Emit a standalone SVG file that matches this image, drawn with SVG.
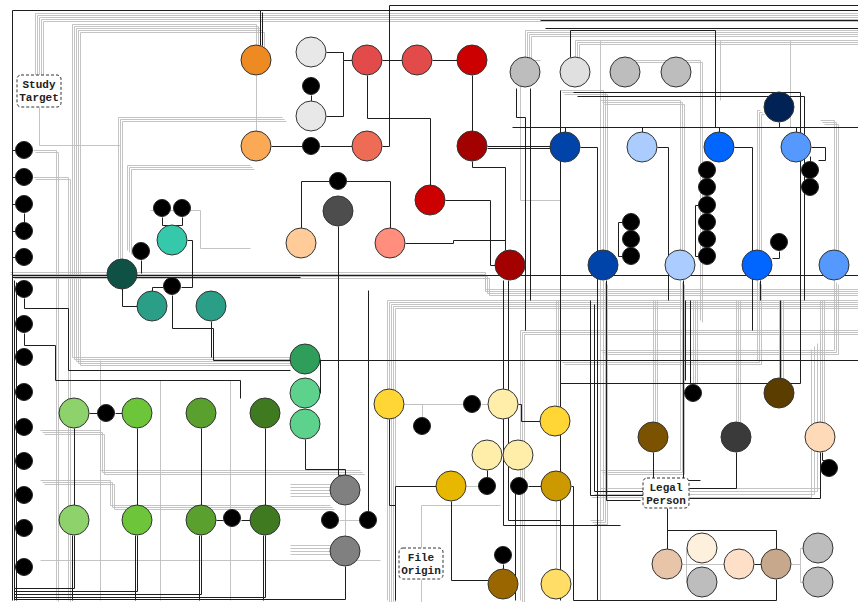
<svg xmlns="http://www.w3.org/2000/svg" xmlns:xlink="http://www.w3.org/1999/xlink" width="858" height="602" viewBox="0 0 858 602">
<style>
.n{stroke:#333;stroke-width:1}
.s{fill:#000;stroke:#222;stroke-width:1}
.d{fill:none;stroke:#1e1e1e;stroke-width:1}
.g{fill:none;stroke:#bdbdbd;stroke-width:0.9}
.box{fill:#fff;stroke:#333;stroke-width:1;stroke-dasharray:3,2}
.lbl{font-family:"Liberation Mono","DejaVu Sans Mono",monospace;font-weight:bold;font-size:11px;fill:#222;text-anchor:middle}
</style>
<defs>
<path id="b1" d="M35,75 V13 H858"/>
<path id="b2" d="M256,45 V24 H72 V357 H300"/>
<path id="b3" d="M282,117 H118 V258"/>
<path id="b4" d="M33,150 H56 V600"/>
<path id="b5" d="M33,177 H68 V600"/>
<path id="b6" d="M10,270 H485 V287 H858"/>
<path id="b7" d="M387,600 V300 H858"/>
<path id="b8" d="M520,600 V330 H858"/>
<path id="b9" d="M525,57 V30 H858"/>
<path id="b10" d="M575,57 V40 H858"/>
<path id="b11" d="M603,250 V90 H560"/>
<path id="b12" d="M680,250 V100 H600"/>
<path id="b13" d="M757,250 V110 H760"/>
<path id="b14" d="M834,250 V120 H820"/>
<path id="b15" d="M603,280 V520 H590"/>
<path id="b16" d="M680,280 V470 H600"/>
<path id="b17" d="M757,280 V360 H560"/>
<path id="b18" d="M834,280 V350 H600"/>
<path id="b19" d="M693,384 V300"/>
<path id="b20" d="M779,378 V300"/>
<path id="b22" d="M40,430 H100 V470 H360"/>
<path id="b23" d="M40,480 H110 V505 H330"/>
<path id="b24" d="M290,490 H330"/>
<path id="b25" d="M556,406 V300"/>
<path id="b26" d="M653,422 V300"/>
<path id="b27" d="M736,422 V300"/>
<path id="b28" d="M820,422 V300"/>
<path id="b29" d="M600,488 H820 V340"/>
<path id="b30" d="M250,165 H127 V250"/>
<path id="b31" d="M625,57 V60 H700 V320"/>
<path id="b32" d="M250,248 H200 V210 H150"/>
</defs>
<g id="connectors" transform="translate(0.5,0.5)">
<g class="g">
<use href="#b1"/><use href="#b1" x="2" y="2"/><use href="#b1" x="4" y="4"/><use href="#b1" x="6" y="6"/><use href="#b1" x="8" y="8"/>
<use href="#b2"/><use href="#b2" x="2" y="2"/><use href="#b2" x="4" y="4"/><use href="#b2" x="6" y="6"/><use href="#b2" x="8" y="8"/>
<use href="#b3"/><use href="#b3" x="2" y="2"/><use href="#b3" x="4" y="4"/>
<use href="#b4"/><use href="#b4" x="2" y="2"/><use href="#b5"/><use href="#b5" x="2" y="2"/>
<use href="#b6" y="2"/><use href="#b6" y="4"/><use href="#b6" x="2" y="6"/><use href="#b6" x="4" y="8"/>
<use href="#b7"/><use href="#b7" x="2" y="2"/><use href="#b7" x="4" y="4"/><use href="#b7" x="6" y="6"/><use href="#b7" x="8" y="8"/>
<use href="#b8"/><use href="#b8" x="2" y="2"/><use href="#b8" x="4" y="4"/>
<use href="#b9"/><use href="#b9" x="2" y="2"/><use href="#b9" x="4" y="4"/><use href="#b9" x="6" y="6"/>
<use href="#b10"/><use href="#b10" x="2" y="2"/><use href="#b10" x="4" y="4"/>
<use href="#b11"/><use href="#b11" x="2" y="2"/><use href="#b11" x="4" y="4"/>
<use href="#b12"/><use href="#b12" x="2" y="2"/><use href="#b12" x="4" y="4"/>
<use href="#b13"/><use href="#b13" x="2" y="2"/><use href="#b13" x="4" y="4"/>
<use href="#b14"/><use href="#b14" x="2" y="2"/><use href="#b14" x="4" y="4"/>
<use href="#b15"/><use href="#b15" x="2" y="2"/><use href="#b15" x="4" y="4"/>
<use href="#b16"/><use href="#b16" x="2" y="2"/><use href="#b16" x="4" y="4"/>
<use href="#b17"/><use href="#b17" x="2" y="2"/><use href="#b17" x="4" y="4"/>
<use href="#b18"/><use href="#b18" x="2" y="2"/><use href="#b18" x="4" y="4"/>
<use href="#b19"/><use href="#b19" x="2"/><use href="#b19" x="4"/>
<use href="#b20"/><use href="#b20" x="2"/><use href="#b20" x="4"/>
<use href="#b22"/><use href="#b22" x="2" y="2"/><use href="#b22" x="4" y="4"/>
<use href="#b23"/><use href="#b23" x="2" y="2"/><use href="#b23" x="4" y="4"/>
<use href="#b24" y="-6"/><use href="#b24" y="-3"/><use href="#b24"/><use href="#b24" y="3"/><use href="#b24" y="6"/>
<use href="#b24" y="55"/><use href="#b24" y="58"/><use href="#b24" y="61"/><use href="#b24" y="64"/>
<use href="#b25"/><use href="#b25" x="2"/><use href="#b25" x="4"/>
<use href="#b26"/><use href="#b26" x="2"/><use href="#b26" x="4"/>
<use href="#b27"/><use href="#b27" x="2"/><use href="#b27" x="4"/>
<use href="#b28"/><use href="#b28" x="2"/><use href="#b28" x="4"/>
<use href="#b29"/><use href="#b29" x="-3" y="3"/><use href="#b29" x="-6" y="6"/><use href="#b29" x="-9" y="9"/>
<use href="#b30"/><use href="#b30" x="2" y="2"/><use href="#b30" x="4" y="4"/>
<use href="#b31"/><use href="#b31" x="2" y="2"/>
<use href="#b32"/>
<path d="M256,75 V131"/>
<path d="M345,505 V536 M339,520 H359"/>
<path d="M404,404 H463 M410,404 H422 V417 M481,404 H488 M466,486 H478 M556,501 V569"/>
<path d="M682,564 H724 M686,564 V548 H687 M686,564 V582 H687 M791,564 H800 V548 H803 M800,564 V582 H803"/>
<path d="M421,579 V602 M421,548 V505 H500"/>
<path d="M39,107 V145 H120"/>
<path d="M100,360 V600 M160,380 V600 M230,380 V600 M40,560 H380"/>
<path d="M540,60 H520 V200 H560 M600,40 V600 M720,40 V100 M790,40 V127"/>
</g>
<g class="d">
<path d="M12,600 V10 H858"/>
<path d="M382,146 H389 V5 H858"/>
<path d="M260,45 V10 M262,45 V12"/>
<path d="M326,52 H343 V60 H352 M326,116 H343 V60 M311,95 V101"/>
<path d="M382,60 H402 M432,60 H457 M472,75 V131"/>
<path d="M320,146 H352 M271,146 H302"/>
<path d="M367,75 V118 H430 V185"/>
<path d="M487,146 H550 M487,148 H550"/>
<path d="M472,161 V167 H505 V250"/>
<path d="M445,200 H490 V265 H495"/>
<path d="M405,243 H453 V240 H505"/>
<path d="M301,228 V181 H390 V228"/>
<path d="M338,226 V475 H345"/>
<path d="M162,217 V225 H172 M182,217 V225 H172"/>
<path d="M141,260 V273 M122,288 V306 H137 M163,287 H152 V291 M181,287 H192 V240 H187"/>
<path d="M172,295 V328 H213 V360 H858"/>
<path d="M211,321 V357"/>
<path d="M12,275 H858 M12,277 H300"/>
<path d="M24,298 V308 H68 V370 H290"/>
<path d="M24,333 V345 H55 V380 H240 V398"/>
<path d="M89,413 H97 M115,413 H122 M216,520 H223 M241,520 H250"/>
<path d="M74,428 V505 M137,428 V505 M201,428 V505 M265,428 V505"/>
<path d="M74,535 V588 H14 M137,535 V591 H14 M201,535 V594 H14 M265,535 V597 H14 M345,566 V599 H14"/>
<path d="M72,535 V600 M135,535 V600 M199,535 V600 M263,535 V600"/>
<path d="M305,439 V469 H345 V475 M320,359 V393"/>
<path d="M368,511 V290"/>
<path d="M389,419 V505 H395 M436,486 H395 V600"/>
<path d="M518,404 H521 V421 H540 M487,470 V477 M528,486 H541"/>
<path d="M451,501 V580 H488 M503,564 V569"/>
<path d="M653,452 V478 M667,508 V549 M667,530 H776 V549 M754,564 H761"/>
<path d="M776,579 V600 H573 V486 H571"/>
<path d="M736,452 V488 H689 M820,452 V498 H689 M822,452 V460 H829"/>
<path d="M779,122 V127 M512,127 H858 M565,132 V127 M642,132 V127 M719,132 V127 M796,132 V127"/>
<path d="M580,147 H597 V600 M657,147 H668 V300 M734,147 H752 V330 M811,147 H825 V160 H818"/>
<path d="M698,205 H695 V256 H698 M622,222 H618 V256 H622"/>
<path d="M779,251 V258 H772 M810,161 V156"/>
<path d="M24,213 V222 M12,150 H15 M12,177 H15 M12,204 H15 M12,231 H15 M12,257 H15"/>
<path d="M14,289 H15 M14,324 H15 M14,357 H15 M14,392 H15 M14,427 H15 M14,461 H15 M14,495 H15 M14,528 H15 M14,567 H15"/>
<path d="M14,280 V600 M16,282 V600"/>
<path d="M515,600 V480 M508,280 V520 H560 M503,280 V525 H620"/>
<path d="M685,300 V380 M690,300 V384 M780,300 V378"/>
<path d="M540,20 H858 M545,28 H858 M560,90 V600"/>
<path d="M570,57 V30 H715 V127 M573,92 H800 V383 H560 M577,96 H804 V300"/>
<path d="M590,300 V495 H643 M594,304 V491 H643"/>
<path d="M606,280 V500 H640 M683,280 V480 H700 M760,280 V300"/>
<path d="M516,88 V117 H525 V330 M530,88 V300"/>
</g>
</g>
<g id="node-orange"><circle class="n" cx="256" cy="60" r="15" fill="#EE8A22"/></g>
<g id="node-lightorange"><circle class="n" cx="256" cy="146" r="15" fill="#FBA955"/></g>
<g id="node-lg1"><circle class="n" cx="311" cy="52" r="15" fill="#E8E8E8"/></g>
<g id="node-s1"><circle class="s" cx="311" cy="86" r="8.5"/></g>
<g id="node-lg2"><circle class="n" cx="311" cy="116" r="15" fill="#E8E8E8"/></g>
<g id="node-s2"><circle class="s" cx="311" cy="146" r="8.5"/></g>
<g id="node-red1"><circle class="n" cx="367" cy="60" r="15" fill="#E24B4A"/></g>
<g id="node-red2"><circle class="n" cx="417" cy="60" r="15" fill="#E24B4A"/></g>
<g id="node-red3"><circle class="n" cx="472" cy="60" r="15" fill="#CC0000"/></g>
<g id="node-salmon1"><circle class="n" cx="367" cy="146" r="15" fill="#EE6B55"/></g>
<g id="node-darkred1"><circle class="n" cx="472" cy="146" r="15" fill="#A30000"/></g>
<g id="node-red4"><circle class="n" cx="430" cy="200" r="15" fill="#CC0000"/></g>
<g id="node-s3"><circle class="s" cx="338" cy="181" r="8.5"/></g>
<g id="node-darkgrey"><circle class="n" cx="338" cy="211" r="15" fill="#4D4D4D"/></g>
<g id="node-peach"><circle class="n" cx="301" cy="243" r="15" fill="#FFCC99"/></g>
<g id="node-salmon2"><circle class="n" cx="390" cy="243" r="15" fill="#FF8E7C"/></g>
<g id="node-darkred2"><circle class="n" cx="510" cy="265" r="15" fill="#A30000"/></g>
<g id="node-grey1"><circle class="n" cx="525" cy="72" r="15" fill="#BDBDBD"/></g>
<g id="node-grey2"><circle class="n" cx="575" cy="72" r="15" fill="#E0E0E0"/></g>
<g id="node-grey3"><circle class="n" cx="625" cy="72" r="15" fill="#BDBDBD"/></g>
<g id="node-grey4"><circle class="n" cx="676" cy="72" r="15" fill="#BDBDBD"/></g>
<g id="node-navy"><circle class="n" cx="779" cy="107" r="15" fill="#002255"/></g>
<g id="node-blue1"><circle class="n" cx="565" cy="147" r="15" fill="#0044AA"/></g>
<g id="node-blue2"><circle class="n" cx="642" cy="147" r="15" fill="#AACCFF"/></g>
<g id="node-blue3"><circle class="n" cx="719" cy="147" r="15" fill="#0066FF"/></g>
<g id="node-blue4"><circle class="n" cx="796" cy="147" r="15" fill="#5599FF"/></g>
<g id="node-blue5"><circle class="n" cx="603" cy="265" r="15" fill="#0044AA"/></g>
<g id="node-blue6"><circle class="n" cx="680" cy="265" r="15" fill="#AACCFF"/></g>
<g id="node-blue7"><circle class="n" cx="757" cy="265" r="15" fill="#0066FF"/></g>
<g id="node-blue8"><circle class="n" cx="834" cy="265" r="15" fill="#5599FF"/></g>
<g id="node-s-blue4a"><circle class="s" cx="810" cy="170" r="8.5"/></g>
<g id="node-s-blue4b"><circle class="s" cx="810" cy="187" r="8.5"/></g>
<g id="node-s-b5a"><circle class="s" cx="631" cy="222" r="8.5"/></g>
<g id="node-s-b5b"><circle class="s" cx="631" cy="239" r="8.5"/></g>
<g id="node-s-b5c"><circle class="s" cx="631" cy="256" r="8.5"/></g>
<g id="node-s-c1"><circle class="s" cx="707" cy="170" r="8.5"/></g>
<g id="node-s-c2"><circle class="s" cx="707" cy="187" r="8.5"/></g>
<g id="node-s-c3"><circle class="s" cx="707" cy="205" r="8.5"/></g>
<g id="node-s-c4"><circle class="s" cx="707" cy="222" r="8.5"/></g>
<g id="node-s-c5"><circle class="s" cx="707" cy="239" r="8.5"/></g>
<g id="node-s-c6"><circle class="s" cx="707" cy="256" r="8.5"/></g>
<g id="node-s-b7"><circle class="s" cx="779" cy="242" r="8.5"/></g>
<g id="node-left-col">
<circle class="s" cx="24" cy="150" r="8.5"/><circle class="s" cx="24" cy="177" r="8.5"/><circle class="s" cx="24" cy="204" r="8.5"/><circle class="s" cx="24" cy="231" r="8.5"/><circle class="s" cx="24" cy="257" r="8.5"/>
<circle class="s" cx="24" cy="289" r="8.5"/><circle class="s" cx="24" cy="324" r="8.5"/><circle class="s" cx="24" cy="357" r="8.5"/><circle class="s" cx="24" cy="392" r="8.5"/><circle class="s" cx="24" cy="427" r="8.5"/><circle class="s" cx="24" cy="461" r="8.5"/><circle class="s" cx="24" cy="495" r="8.5"/><circle class="s" cx="24" cy="528" r="8.5"/><circle class="s" cx="24" cy="567" r="8.5"/>
</g>
<g id="node-darkteal"><circle class="n" cx="122" cy="274" r="15" fill="#0F5245"/></g>
<g id="node-tealLight"><circle class="n" cx="172" cy="240" r="15" fill="#36C8AA"/></g>
<g id="node-s-t1"><circle class="s" cx="162" cy="208" r="8.5"/></g>
<g id="node-s-t2"><circle class="s" cx="182" cy="208" r="8.5"/></g>
<g id="node-s-t3"><circle class="s" cx="141" cy="251" r="8.5"/></g>
<g id="node-s-t4"><circle class="s" cx="172" cy="286" r="8.5"/></g>
<g id="node-teal1"><circle class="n" cx="152" cy="306" r="15" fill="#2A9E86"/></g>
<g id="node-teal2"><circle class="n" cx="211" cy="306" r="15" fill="#2A9E86"/></g>
<g id="node-g1"><circle class="n" cx="74" cy="413" r="15" fill="#8DD26B"/></g>
<g id="node-s-g1"><circle class="s" cx="106" cy="413" r="8.5"/></g>
<g id="node-g2"><circle class="n" cx="137" cy="413" r="15" fill="#6DC53A"/></g>
<g id="node-g3"><circle class="n" cx="201" cy="413" r="15" fill="#5AA02E"/></g>
<g id="node-g4"><circle class="n" cx="265" cy="413" r="15" fill="#3F7A20"/></g>
<g id="node-g5"><circle class="n" cx="74" cy="520" r="15" fill="#8DD26B"/></g>
<g id="node-g6"><circle class="n" cx="137" cy="520" r="15" fill="#6DC53A"/></g>
<g id="node-g7"><circle class="n" cx="201" cy="520" r="15" fill="#5AA02E"/></g>
<g id="node-s-g2"><circle class="s" cx="232" cy="518" r="8.5"/></g>
<g id="node-g8"><circle class="n" cx="265" cy="520" r="15" fill="#3F7A20"/></g>
<g id="node-mg1"><circle class="n" cx="305" cy="359" r="15" fill="#2E9E5A"/></g>
<g id="node-mg2"><circle class="n" cx="305" cy="393" r="15" fill="#5CD28C"/></g>
<g id="node-mg3"><circle class="n" cx="305" cy="424" r="15" fill="#5CD28C"/></g>
<g id="node-gm1"><circle class="n" cx="345" cy="490" r="15" fill="#808080"/></g>
<g id="node-gm2"><circle class="n" cx="345" cy="551" r="15" fill="#808080"/></g>
<g id="node-s-gm1"><circle class="s" cx="330" cy="520" r="8.5"/></g>
<g id="node-s-gm2"><circle class="s" cx="368" cy="520" r="8.5"/></g>
<g id="node-y1"><circle class="n" cx="389" cy="404" r="15" fill="#FFD633"/></g>
<g id="node-s-y1"><circle class="s" cx="422" cy="426" r="8.5"/></g>
<g id="node-s-y2"><circle class="s" cx="472" cy="404" r="8.5"/></g>
<g id="node-ly1"><circle class="n" cx="503" cy="404" r="15" fill="#FFEEAA"/></g>
<g id="node-y2"><circle class="n" cx="555" cy="421" r="15" fill="#FFD633"/></g>
<g id="node-ly2"><circle class="n" cx="487" cy="455" r="15" fill="#FFEEAA"/></g>
<g id="node-ly3"><circle class="n" cx="518" cy="455" r="15" fill="#FFEEAA"/></g>
<g id="node-s-y3"><circle class="s" cx="487" cy="486" r="8.5"/></g>
<g id="node-s-y4"><circle class="s" cx="519" cy="486" r="8.5"/></g>
<g id="node-y3"><circle class="n" cx="451" cy="486" r="15" fill="#E8B800"/></g>
<g id="node-y4"><circle class="n" cx="556" cy="486" r="15" fill="#CC9900"/></g>
<g id="node-s-y5"><circle class="s" cx="503" cy="555" r="8.5"/></g>
<g id="node-y5"><circle class="n" cx="503" cy="584" r="15" fill="#996600"/></g>
<g id="node-y6"><circle class="n" cx="556" cy="584" r="15" fill="#FFDD66"/></g>
<g id="node-s-r1"><circle class="s" cx="693" cy="393" r="8.5"/></g>
<g id="node-br1"><circle class="n" cx="779" cy="393" r="15" fill="#5C3D00"/></g>
<g id="node-br2"><circle class="n" cx="653" cy="437" r="15" fill="#7A5200"/></g>
<g id="node-dk"><circle class="n" cx="736" cy="437" r="15" fill="#3A3A3A"/></g>
<g id="node-pc"><circle class="n" cx="820" cy="437" r="15" fill="#FFDAB9"/></g>
<g id="node-s-r2"><circle class="s" cx="829" cy="468" r="8.5"/></g>
<g id="node-b1"><circle class="n" cx="667" cy="564" r="15" fill="#E8C4A8"/></g>
<g id="node-b2"><circle class="n" cx="702" cy="548" r="15" fill="#FDF0DC"/></g>
<g id="node-b3"><circle class="n" cx="702" cy="582" r="15" fill="#BDBDBD"/></g>
<g id="node-b4"><circle class="n" cx="739" cy="564" r="15" fill="#FEE0C8"/></g>
<g id="node-b5"><circle class="n" cx="776" cy="564" r="15" fill="#C8A88C"/></g>
<g id="node-b6"><circle class="n" cx="818" cy="548" r="15" fill="#BDBDBD"/></g>
<g id="node-b7"><circle class="n" cx="818" cy="582" r="15" fill="#BDBDBD"/></g>
<g id="label-study-target"><rect class="box" x="17" y="75" width="44" height="32" rx="4"/><text class="lbl" x="39" y="88">Study</text><text class="lbl" x="39" y="101">Target</text></g>
<g id="label-file-origin"><rect class="box" x="399" y="548" width="44" height="31" rx="4"/><text class="lbl" x="421" y="561">File</text><text class="lbl" x="421" y="574">Origin</text></g>
<g id="label-legal-person"><rect class="box" x="643" y="478" width="46" height="30" rx="4"/><text class="lbl" x="666" y="491">Legal</text><text class="lbl" x="666" y="504">Person</text></g>
</svg>
